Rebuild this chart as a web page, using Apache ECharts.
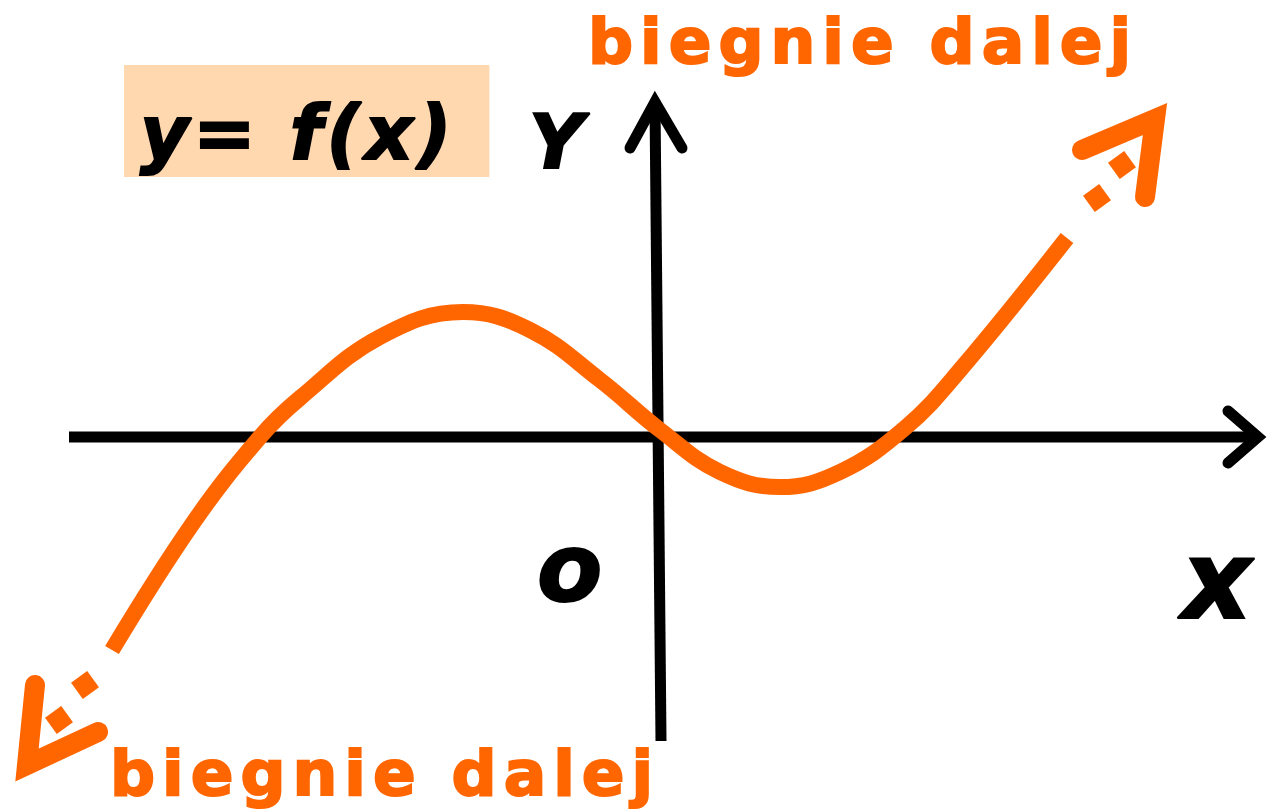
<!DOCTYPE html>
<html>
<head>
<meta charset="utf-8">
<script src="https://cdn.jsdelivr.net/npm/echarts@6/dist/echarts.min.js"></script>
<style>
  html, body { margin: 0; padding: 0; background: #fff; }
  #chart { width: 1267px; height: 811px; }
</style>
</head>
<body>
<div id="chart"></div>
<script>
// coordinates: 1 unit = 1px, origin where the axes cross
const curveX = [-544, -463, -396, -356, -276, -193, -126, -56, 4, 64, 124, 184, 249, 304, 411]
const curveY = [-213, -86, 0, 39, 100, 125, 107, 57, 7, -35, -50, -35, 9, 67, 199]

// dashed continuation (squares) on both ends
const dashRight = [[441, 239], [466, 272]]
const dashLeft = [[-571, -248], [-597, -283]]

// open arrow heads of the curve
const arrowRight = [[426, 287], [499, 318], [489, 240]]
const arrowLeft = [[-621, -248], [-629, -328], [-558, -295]]

// axes and their arrow heads
const axisX = [[-587, 0], [600, 0]]
const axisY = [[5, -304], [-1, 334]]
const arrowAxisX = [[572, 26], [602, 0], [572, -26]]
const arrowAxisY = [[-26, 289], [-1, 335], [26, 289]]

const labelText = 'biegnie dalej'
const formulaText = 'y= f(x)'

const ORANGE = '#FF6600'
const fontBig = 'DejaVu Sans'

let chartDom = document.getElementById('chart')
let myChart = echarts.init(chartDom, null, { renderer: 'svg' })

const lineSeries = (data, color, width, extra) => Object.assign({
    type: 'line',
    data: data,
    symbol: 'none',
    silent: true,
    lineStyle: { color: color, width: width, cap: 'round', join: 'miter', miterLimit: 10 }
}, extra || {})

// heavy text: bold + a thin outline in the same colour
const heavy = (size, color, italic) => ({
    fontFamily: fontBig, fontSize: size, lineHeight: size, fontWeight: 'bold',
    fontStyle: italic ? 'italic' : 'normal', color: color,
    textBorderColor: color, textBorderWidth: 2
})

let option = {
    animation: false,
    grid: { left: 0, right: 0, top: 0, bottom: 0 },
    xAxis: { type: 'value', min: -656, max: 611, show: false },
    yAxis: { type: 'value', min: -374, max: 437, show: false },
    title: [
        {
            text: formulaText, left: 125, top: 66,
            backgroundColor: '#FFD8B0',
            padding: [29, 61, 6, 15],
            textStyle: heavy(75, '#000', true)
        },
        { text: 'Y', left: 529, top: 104, padding: 0, textStyle: heavy(75, '#000', true) },
        { text: 'o', left: 537, top: 520, padding: 0, textStyle: heavy(95, '#000', true) },
        { text: 'x', left: 1182, top: 526, padding: 0, textStyle: heavy(108, '#000', true) },
        { text: labelText, left: 588, top: 10, padding: 0, textStyle: heavy(63, ORANGE, false) },
        { text: labelText, left: 110, top: 742, padding: 0, textStyle: heavy(63, ORANGE, false) }
    ],
    series: [
        lineSeries(axisX, '#000', 11, { lineStyle: { color: '#000', width: 11, cap: 'butt' } }),
        lineSeries(axisY, '#000', 11, { lineStyle: { color: '#000', width: 11, cap: 'butt' } }),
        lineSeries(arrowAxisX, '#000', 11),
        lineSeries(arrowAxisY, '#000', 11),
        lineSeries(curveX.map((x, i) => [x, curveY[i]]), ORANGE, 16, {
            smooth: 0.4,
            lineStyle: { color: ORANGE, width: 16, cap: 'butt', join: 'round' }
        }),
        {
            type: 'scatter',
            data: dashRight.concat(dashLeft),
            symbol: 'rect',
            symbolSize: 20,
            symbolRotate: 36,
            silent: true,
            itemStyle: { color: ORANGE, opacity: 1 }
        },
        lineSeries(arrowRight, ORANGE, 20),
        lineSeries(arrowLeft, ORANGE, 20)
    ]
}

option && myChart.setOption(option)

// wider letter spacing, as in the picture
chartDom.querySelectorAll('text').forEach(t => {
    if (t.textContent === labelText) t.setAttribute('letter-spacing', '7')
    if (t.textContent === formulaText) t.setAttribute('letter-spacing', '4')
})
</script>
</body>
</html>
